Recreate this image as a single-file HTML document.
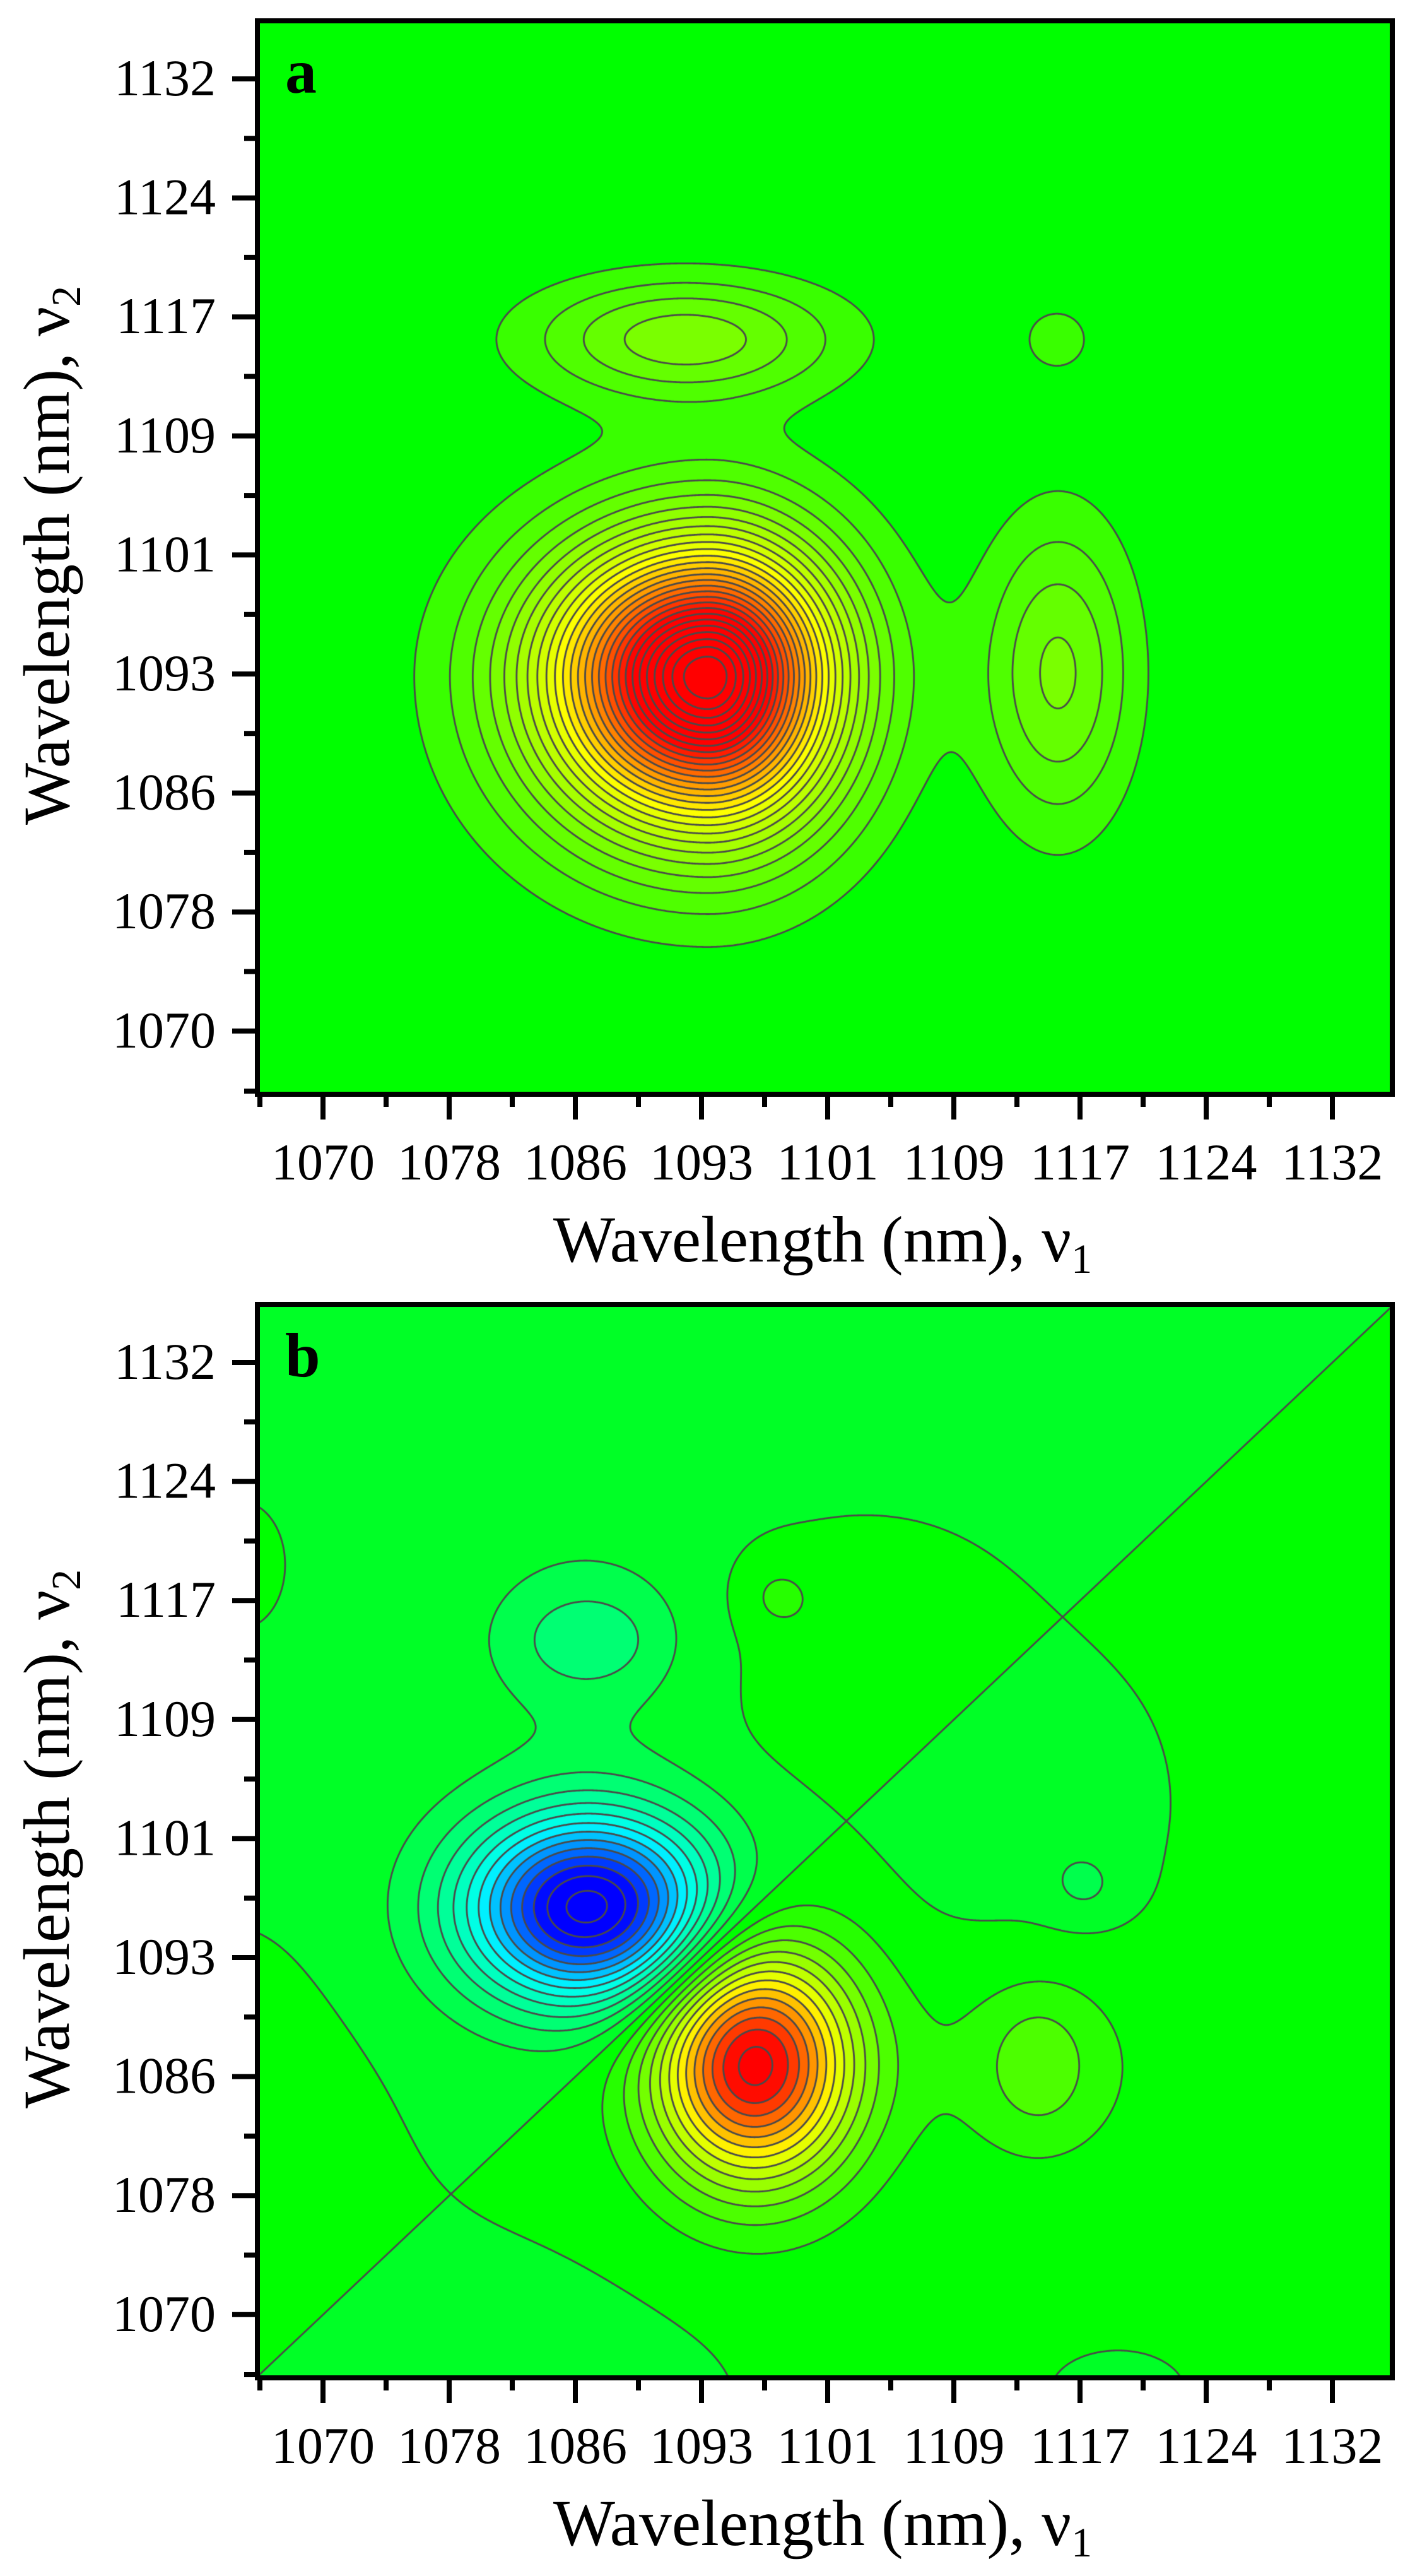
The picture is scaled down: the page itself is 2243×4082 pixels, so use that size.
<!DOCTYPE html>
<html><head><meta charset="utf-8">
<style>
html,body{margin:0;padding:0;background:#fff;}
#wrap{position:relative;width:2243px;height:4082px;overflow:hidden;background:#fff;}
canvas{position:absolute;left:412px;}
svg{position:absolute;left:0;top:0;}
text{font-family:"Liberation Serif","DejaVu Serif",serif;fill:#000;}
</style></head>
<body><div id="wrap">
<canvas id="ca" style="top:37px" width="1792" height="1694"></canvas>
<canvas id="cb" style="top:2071px" width="1792" height="1694"></canvas>
<svg id="ov" width="2243" height="4082" viewBox="0 0 2243 4082"></svg>
</div>
<script>
(function(){
var NS="http://www.w3.org/2000/svg",ov=document.getElementById('ov');
function el(t,a,txt){var e=document.createElementNS(NS,t);for(var k in a)e.setAttribute(k,a[k]);if(txt!=null)e.textContent=txt;ov.appendChild(e);return e;}
var labs=['1070','1078','1086','1093','1101','1109','1117','1124','1132'];
[0,2034].forEach(function(oy,pi){
  el('rect',{x:408,y:33+oy,width:1799,height:1701,fill:'none',stroke:'#000','stroke-width':8});
  for(var j=0;j<9;j++){var y=125+188.6*j+oy;
    el('line',{x1:368,x2:405,y1:y,y2:y,stroke:'#000','stroke-width':8});
    el('text',{x:342,y:y+26,'font-size':82,'text-anchor':'end'},labs[8-j]);}
  for(var j=0;j<9;j++){var y=125+188.6*(j+0.5)+oy; if(j==8)y=1729+oy;
    el('line',{x1:387,x2:405,y1:y,y2:y,stroke:'#000','stroke-width':8});}
  for(var i=0;i<9;i++){var x=512+200*i;
    el('line',{x1:x,x2:x,y1:1734+oy,y2:1774+oy,stroke:'#000','stroke-width':8});
    el('text',{x:x,y:1869+oy,'font-size':82,'text-anchor':'middle'},labs[i]);}
  for(var k=0;k<9;k++){var x=412+200*k;
    el('line',{x1:x,x2:x,y1:1734+oy,y2:1754+oy,stroke:'#000','stroke-width':8});}
  var t=el('text',{x:1304,y:1999+oy,'font-size':104,'text-anchor':'middle'});
  t.appendChild(document.createTextNode('Wavelength (nm), \u03BD'));
  var s=document.createElementNS(NS,'tspan');s.setAttribute('font-size',66);s.setAttribute('dy',18);s.textContent='1';t.appendChild(s);
  var t2=el('text',{x:0,y:0,'font-size':104,'text-anchor':'middle',transform:'translate(109,'+(880+oy)+') rotate(-90)'});
  t2.appendChild(document.createTextNode('Wavelength (nm), \u03BD'));
  var s2=document.createElementNS(NS,'tspan');s2.setAttribute('font-size',66);s2.setAttribute('dy',18);s2.textContent='2';t2.appendChild(s2);
  el('text',{x:452,y:147+oy,'font-size':100,'font-weight':'bold'},pi?'b':'a');
});

function G(a,b,ca,cb,sa,sb,A){var x=(a-ca)/sa,y=(b-cb)/sb;return A*Math.exp(-0.5*(x*x+y*y));}
function fa(a,b){
  var dx=a-3.05,dy=b-2.98;
  var sx=dx<0?0.86:0.68, sy=dy<0?0.84:0.76;
  var q=Math.sqrt((dx/sx)*(dx/sx)+(dy/sy)*(dy/sy));
  var v=Math.exp(-Math.pow(q,1.8)/1.8);
  v+=G(a,b,2.87,5.82,0.85,0.36,0.165);
  v+=G(a,b,5.83,3.01,0.42,0.9,0.15);
  v+=G(a,b,5.82,5.82,0.29,0.29,0.045);
  return v;
}
function gb(a,b){
  var v=0;
  v+=G(a,b,3.42,2.11,0.55,0.68,1);
  v+=G(a,b,5.67,2.11,0.6,0.65,0.11);
  v+=G(a,b,5.67,2.1,0.25,0.35,0.1);
  v+=G(a,b,3.61,6.04,0.22,0.22,0.08);
  v+=G(a,b,4.4,5.5,1.0,0.75,0.06);
  v+=G(a,b,-0.8,1.0,0.8,1.3,0.07);
  v+=G(a,b,-0.65,6.3,0.25,0.38,0.04);
  return v;
}
function fb(a,b){return gb(a,b)-gb(b,a)+0.015*Math.tanh(a-b);}
function cmapA(k,d){
  if(k<=0)return[0,255,0];
  var t=k*d; var r,g;
  if(t<=0.36){r=35+t/0.36*220;g=255;}else{r=255;g=255*(1-(t-0.36)/0.36);}
  return[Math.max(0,Math.min(255,r)),Math.max(0,Math.min(255,g)),0];
}
function cmapB(k,d){
  var t=k*d;
  if(t>=0){ if(t<=0.5)return[510*t,255,0]; return[255,Math.max(0,255*(1-(t-0.5)/0.42)),0];}
  var s=-t; if(s<=0.5)return[0,255,510*s]; return[0,Math.max(0,255*(1-(s-0.5)/0.42)),255];
}
function render(id,f,d,kmin,kmax,cmap,Y0,tickY){
  var cv=document.getElementById(id),W=cv.width,H=cv.height,ctx=cv.getContext('2d');
  var img=ctx.createImageData(W,H),D=img.data;
  for(var y=0;y<H;y++){var b=(tickY-(Y0+y+0.5))/188.6;
    for(var x=0;x<W;x++){var a=(412+x+0.5-512)/200;
      var v=f(a,b),k=Math.floor(v/d),c=cmap(k,d),p=(y*W+x)*4;
      D[p]=c[0];D[p+1]=c[1];D[p+2]=c[2];D[p+3]=255;}}
  ctx.putImageData(img,0,0);
  var st=2,nx=Math.ceil(W/st)+1,ny=Math.ceil(H/st)+1,g=new Float64Array(nx*ny);
  for(var j=0;j<ny;j++){var b=(tickY-(Y0+j*st))/188.6;
    for(var i=0;i<nx;i++){var a=(412+i*st-512)/200;g[j*nx+i]=f(a,b);}}
  ctx.strokeStyle='#4a4a4a';ctx.lineWidth=2.8;ctx.lineCap='round';ctx.beginPath();
  for(var j=0;j<ny-1;j++)for(var i=0;i<nx-1;i++){
    var v0=g[j*nx+i],v1=g[j*nx+i+1],v2=g[(j+1)*nx+i+1],v3=g[(j+1)*nx+i];
    var mn=Math.min(v0,v1,v2,v3),mx=Math.max(v0,v1,v2,v3);
    var k0=Math.max(kmin,Math.ceil(mn/d)),k1=Math.min(kmax,Math.floor(mx/d));
    for(var k=k0;k<=k1;k++){var L=k*d,pts=[];
      var x0=i*st,y0=j*st;
      if((v0<L)!=(v1<L))pts.push([x0+st*(L-v0)/(v1-v0),y0]);
      if((v1<L)!=(v2<L))pts.push([x0+st,y0+st*(L-v1)/(v2-v1)]);
      if((v3<L)!=(v2<L))pts.push([x0+st*(L-v3)/(v2-v3),y0+st]);
      if((v0<L)!=(v3<L))pts.push([x0,y0+st*(L-v0)/(v3-v0)]);
      if(pts.length>=2){ctx.moveTo(pts[0][0],pts[0][1]);ctx.lineTo(pts[1][0],pts[1][1]);}
      if(pts.length==4){ctx.moveTo(pts[2][0],pts[2][1]);ctx.lineTo(pts[3][0],pts[3][1]);}
    }}
  ctx.stroke();
}
render('ca',fa,1/28,1,27,cmapA,37,1634);
render('cb',fb,0.075,-14,14,cmapB,2071,3668);
})();
</script>
</body></html>
